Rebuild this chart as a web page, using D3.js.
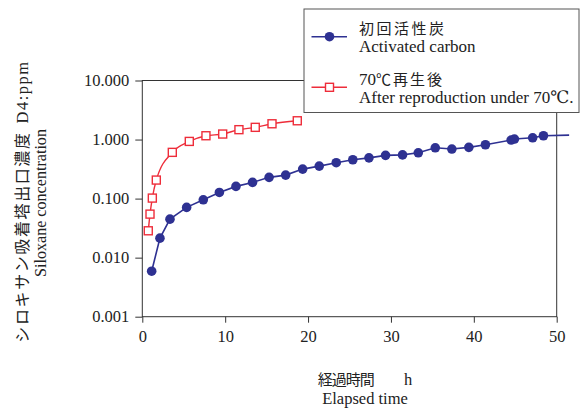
<!DOCTYPE html>
<html><head><meta charset="utf-8">
<script src="https://cdn.jsdelivr.net/npm/d3@7"></script>
<style>
html,body{margin:0;padding:0;background:#fff;}
svg{display:block;}
</style></head>
<body>
<script>
// ---- data ----
const blueHours = [1.13, 2.13, 3.34, 5.35, 7.36, 9.3, 11.3, 13.3, 15.3, 17.3, 19.35, 21.35, 23.4, 25.4, 27.35, 29.35, 31.4, 33.3, 35.35, 37.35, 39.4, 41.4, 44.5, 44.9, 47.1, 48.4, 51.5];
const blueValues = [0.0059, 0.0214, 0.0449, 0.071, 0.0955, 0.127, 0.161, 0.188, 0.229, 0.25, 0.316, 0.355, 0.405, 0.455, 0.49, 0.54, 0.55, 0.597, 0.725, 0.69, 0.738, 0.816, 0.98, 1.02, 1.07, 1.16, 1.19];
const redHours = [0.72, 0.93, 1.21, 1.69, 3.62, 5.67, 7.68, 9.7, 11.66, 13.63, 15.65, 18.7];
const redValues = [0.0285, 0.0546, 0.102, 0.206, 0.607, 0.93, 1.16, 1.24, 1.47, 1.61, 1.85, 2.08];
const xTicks = [0, 10, 20, 30, 40, 50];
const yTicks = [0.001, 0.01, 0.1, 1, 10];
const yTickLabels = ["0.001", "0.010", "0.100", "1.000", "10.000"];
const legendJP = ["初回活性炭", "70℃再生後"];
const legendEN = ["Activated carbon", "After reproduction under 70℃."];

const W = 581, H = 409;
const SERIF = "'Liberation Serif','DejaVu Serif',serif";
const CJK = "'Noto Sans CJK JP','Noto Sans CJK SC',sans-serif";
const BLUE = "#2e3192", RED = "#ee2d3a", AX = "#333";

const svg = d3.select("body").append("svg").attr("width", W).attr("height", H);

const x = d3.scaleLinear().domain([0, 50]).range([142.3, 556.7]);
const y = d3.scaleLog().domain([0.001, 10]).range([316.7, 80.5]);

// frame
svg.append("rect").attr("x", x(0)).attr("y", y(10)).attr("width", x(50) - x(0)).attr("height", y(0.001) - y(10))
  .attr("fill", "none").attr("stroke", AX).attr("stroke-width", 1);

// y axis
const yAxis = d3.axisLeft(y).tickValues(yTicks).tickSize(7).tickPadding(6)
  .tickFormat((d, i) => yTickLabels[i]);
const gy = svg.append("g").attr("transform", `translate(${x(0)},0)`).call(yAxis);
gy.select(".domain").remove();
gy.selectAll("line").attr("stroke", AX);
gy.selectAll("text").attr("font-family", SERIF).attr("font-size", 16.5).attr("fill", "#222");

// x axis
const xAxis = d3.axisBottom(x).tickValues(xTicks).tickSize(6).tickPadding(8).tickFormat(d3.format("d"));
const gx = svg.append("g").attr("transform", `translate(0,${y(0.001)})`).call(xAxis);
gx.select(".domain").remove();
gx.selectAll("line").attr("stroke", AX);
gx.selectAll("text").attr("font-family", SERIF).attr("font-size", 16.5).attr("fill", "#222");

// series
const blue = blueHours.map((h, i) => ({h, v: blueValues[i]}));
const red = redHours.map((h, i) => ({h, v: redValues[i]}));

svg.append("path").datum(blue)
  .attr("d", d3.line().x(d => x(d.h)).y(d => y(d.v)))
  .attr("fill", "none").attr("stroke", BLUE).attr("stroke-width", 1.6);
svg.selectAll("circle.b").data(blue.filter(d => d.h <= 50)).enter().append("circle")
  .attr("cx", d => x(d.h)).attr("cy", d => y(d.v)).attr("r", 4.8).attr("fill", BLUE);

svg.append("path").datum(red)
  .attr("d", d3.line().x(d => x(d.h)).y(d => y(d.v)).curve(d3.curveMonotoneX))
  .attr("fill", "none").attr("stroke", RED).attr("stroke-width", 1.4);
const S = 8;
svg.selectAll("rect.r").data(red).enter().append("rect")
  .attr("x", d => x(d.h) - S / 2).attr("y", d => y(d.v) - S / 2).attr("width", S).attr("height", S)
  .attr("fill", "#fff").attr("stroke", RED).attr("stroke-width", 1.4);

// legend
const lg = svg.append("g");
lg.append("rect").attr("x", 304).attr("y", 9).attr("width", 275).attr("height", 103.5)
  .attr("fill", "#fff").attr("stroke", "#555").attr("stroke-width", 1);
const ly = [36.7, 87.3];
[0, 1].forEach(i => {
  const col = i === 0 ? BLUE : RED;
  lg.append("line").attr("x1", 311.5).attr("x2", 347).attr("y1", ly[i]).attr("y2", ly[i])
    .attr("stroke", col).attr("stroke-width", i === 0 ? 1.6 : 1.4);
  if (i === 0) lg.append("circle").attr("cx", 329.5).attr("cy", ly[i]).attr("r", 4.8).attr("fill", col);
  else lg.append("rect").attr("x", 329.5 - S / 2).attr("y", ly[i] - S / 2).attr("width", S).attr("height", S)
    .attr("fill", "#fff").attr("stroke", col).attr("stroke-width", 1.4);
  const jt = lg.append("text").attr("x", 359).attr("y", ly[i] - 2.5).attr("fill", "#222");
  if (i === 0) {
    jt.attr("font-family", CJK).attr("font-size", 15).attr("letter-spacing", 2.5).text(legendJP[i]);
  } else {
    jt.append("tspan").attr("font-family", SERIF).attr("font-size", 17).text(legendJP[i].slice(0, 2));
    jt.append("tspan").attr("font-family", CJK).attr("font-size", 15).attr("letter-spacing", 2).text(legendJP[i].slice(2));
  }
  lg.append("text").attr("x", 359).attr("y", ly[i] + 15.5).attr("font-family", SERIF)
    .attr("font-size", 17).attr("fill", "#222").text(legendEN[i]);
});

// x title
svg.append("text").attr("x", 365).attr("y", 384.5).attr("text-anchor", "middle").attr("fill", "#222")
  .call(t => {
    t.append("tspan").attr("font-family", CJK).attr("font-size", 15).attr("letter-spacing", -1).text("経過時間");
    t.append("tspan").attr("font-family", SERIF).attr("font-size", 16.5).attr("dx", 30).text("h");
  });
svg.append("text").attr("x", 365).attr("y", 403.5).attr("text-anchor", "middle").attr("fill", "#222")
  .attr("font-family", SERIF).attr("font-size", 16.5).text("Elapsed time");

// y title
svg.append("text").attr("transform", "translate(28,201.5) rotate(-90)").attr("text-anchor", "middle").attr("fill", "#222")
  .call(t => {
    t.append("tspan").attr("font-family", CJK).attr("font-size", 16).attr("letter-spacing", 1.6).text("シロキサン吸着塔出口濃度");
    t.append("tspan").attr("font-family", SERIF).attr("font-size", 16.5).attr("dx", 8).attr("letter-spacing", 1.5).text("D4:ppm");
  });
svg.append("text").attr("transform", "translate(45.5,203) rotate(-90)").attr("text-anchor", "middle").attr("fill", "#222")
  .attr("font-family", SERIF).attr("font-size", 16.1).text("Siloxane concentration");
</script>
</body></html>
